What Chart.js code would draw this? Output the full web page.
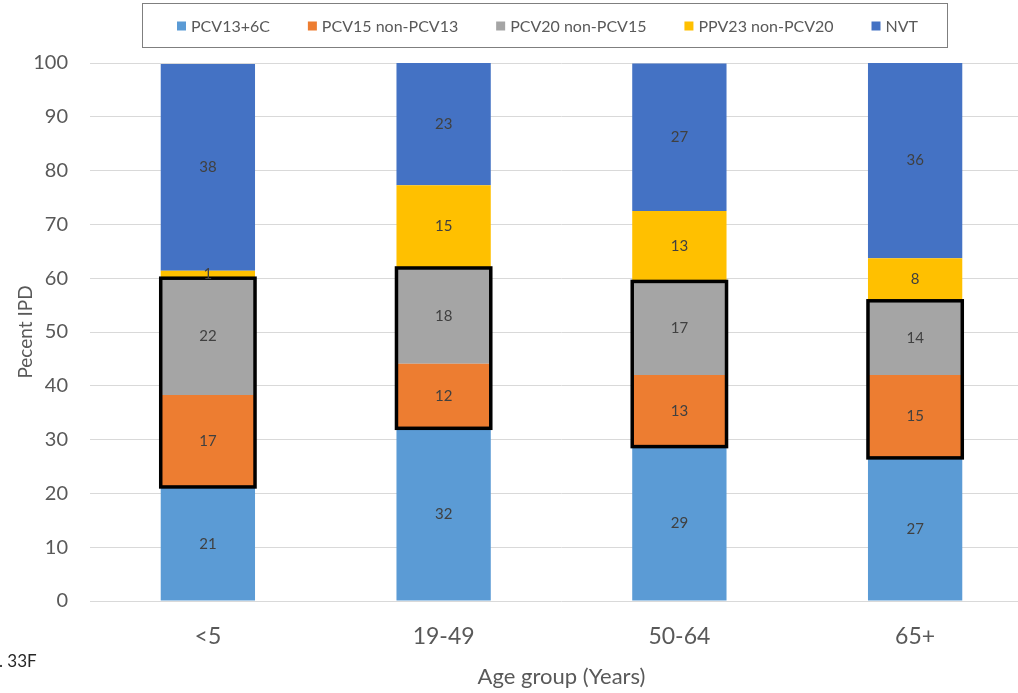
<!DOCTYPE html>
<html>
<head>
<meta charset="utf-8">
<script src="https://cdn.jsdelivr.net/npm/chart.js@4.4.1/dist/chart.umd.min.js"></script>
<style>
  html, body { margin: 0; padding: 0; overflow: hidden; background: #fff; }
  #wrap { width: 1040px; height: 693px; position: relative; }
</style>
</head>
<body>
<div id="wrap"><canvas id="grafico"></canvas></div>
<script>
// Porcentaje de ENI por grupo de edad y serotipo
const grupos = ['<5', '19-49', '50-64', '65+'];
const pcv13 = [21.2, 32.1, 28.7, 26.6];
const pcv15 = [17.1, 12.0, 13.3, 15.4];
const pcv20 = [21.7, 17.8, 17.4, 13.8];
const ppv23 = [1.4, 15.4, 13.1, 7.9];
const nvt = [38.4, 22.7, 27.4, 36.3];

const nombres = ['PCV13+6C', 'PCV15 non-PCV13', 'PCV20 non-PCV15', 'PPV23 non-PCV20', 'NVT'];
const colores = ['#5B9BD5', '#ED7D31', '#A5A5A5', '#FFC000', '#4472C4'];
const series = [pcv13, pcv15, pcv20, ppv23, nvt];

const FUENTE = 'Lato';
const GRIS = '#595959';

// Recuadro negro alrededor de PCV15 + PCV20 y numeros dentro de cada tramo
const etiquetas = {
    id: 'etiquetas',
    afterDatasetsDraw(chart) {
        const ctx = chart.ctx;
        const m1 = chart.getDatasetMeta(1);
        const m2 = chart.getDatasetMeta(2);
        ctx.save();
        ctx.strokeStyle = '#000';
        ctx.lineWidth = 3.5;
        m1.data.forEach((bar, i) => {
            const arriba = m2.data[i].y;
            ctx.strokeRect(bar.x - bar.width / 2, arriba, bar.width, bar.base - arriba);
        });
        ctx.font = '15px ' + FUENTE;
        ctx.fillStyle = '#404040';
        ctx.textAlign = 'center';
        ctx.textBaseline = 'middle';
        chart.data.datasets.forEach((ds, d) => {
            chart.getDatasetMeta(d).data.forEach((bar, i) => {
                ctx.fillText(Math.round(ds.data[i]), bar.x, (bar.y + bar.base) / 2);
            });
        });
        ctx.restore();
    }
};

// Leyenda con marco, como en Excel
const leyenda = {
    id: 'leyenda',
    afterDraw(chart) {
        const ctx = chart.ctx;
        ctx.save();
        ctx.strokeStyle = '#7f7f7f';
        ctx.lineWidth = 1;
        ctx.strokeRect(142.5, 3.5, 805, 44);
        ctx.font = '16px ' + FUENTE;
        ctx.textBaseline = 'middle';
        const cuadro = 9, sep = 5;
        const anchos = nombres.map(n => ctx.measureText(n).width);
        const inicio = 177, fin = 918;
        const ocupado = anchos.reduce((a, w) => a + cuadro + sep + w, 0);
        const hueco = (fin - inicio - ocupado) / (nombres.length - 1);
        let x = inicio;
        const y = 26;
        nombres.forEach((n, i) => {
            ctx.fillStyle = colores[i];
            ctx.fillRect(x, y - cuadro / 2, cuadro, cuadro);
            ctx.fillStyle = GRIS;
            ctx.fillText(n, x + cuadro + sep, y + 1);
            x += cuadro + sep + anchos[i] + hueco;
        });
        // texto recortado de la diapositiva original
        ctx.font = '17px ' + FUENTE;
        ctx.fillStyle = '#262626';
        ctx.textBaseline = 'alphabetic';
        ctx.fillText('. 33F', -1, 667);
        ctx.restore();
    }
};

const ctx = document.getElementById('grafico').getContext('2d');
const grafico = new Chart(ctx, {
    type: 'bar',
    data: {
        labels: grupos,
        datasets: series.map((s, i) => ({
            label: nombres[i],
            data: s,
            backgroundColor: colores[i],
            borderWidth: 0,
            barPercentage: 0.4,
            categoryPercentage: 1
        }))
    },
    options: {
        responsive: true,
        maintainAspectRatio: false,
        animation: false,
        layout: { padding: { left: 0, right: 7, top: 63, bottom: 0 } },
        plugins: {
            legend: { display: false },
            tooltip: { enabled: false }
        },
        scales: {
            x: {
                stacked: true,
                grid: { display: false, drawTicks: false },
                border: { display: false },
                ticks: { color: GRIS, font: { family: FUENTE, size: 23 }, padding: 22 },
                title: {
                    display: true,
                    text: 'Age group (Years)',
                    color: GRIS,
                    font: { family: FUENTE, size: 22 },
                    padding: { top: -9, bottom: 3 }
                }
            },
            y: {
                stacked: true,
                min: 0,
                max: 100,
                grid: { color: '#d9d9d9', drawTicks: false },
                border: { display: false },
                ticks: { stepSize: 10, color: GRIS, font: { family: FUENTE, size: 20 }, padding: 22 },
                title: {
                    display: true,
                    text: 'Pecent IPD',
                    color: GRIS,
                    font: { family: FUENTE, size: 19 },
                    padding: { top: 14, bottom: 0 }
                },
                afterFit(scale) { scale.width = 90; }
            }
        }
    },
    plugins: [etiquetas, leyenda]
});
</script>
</body>
</html>
